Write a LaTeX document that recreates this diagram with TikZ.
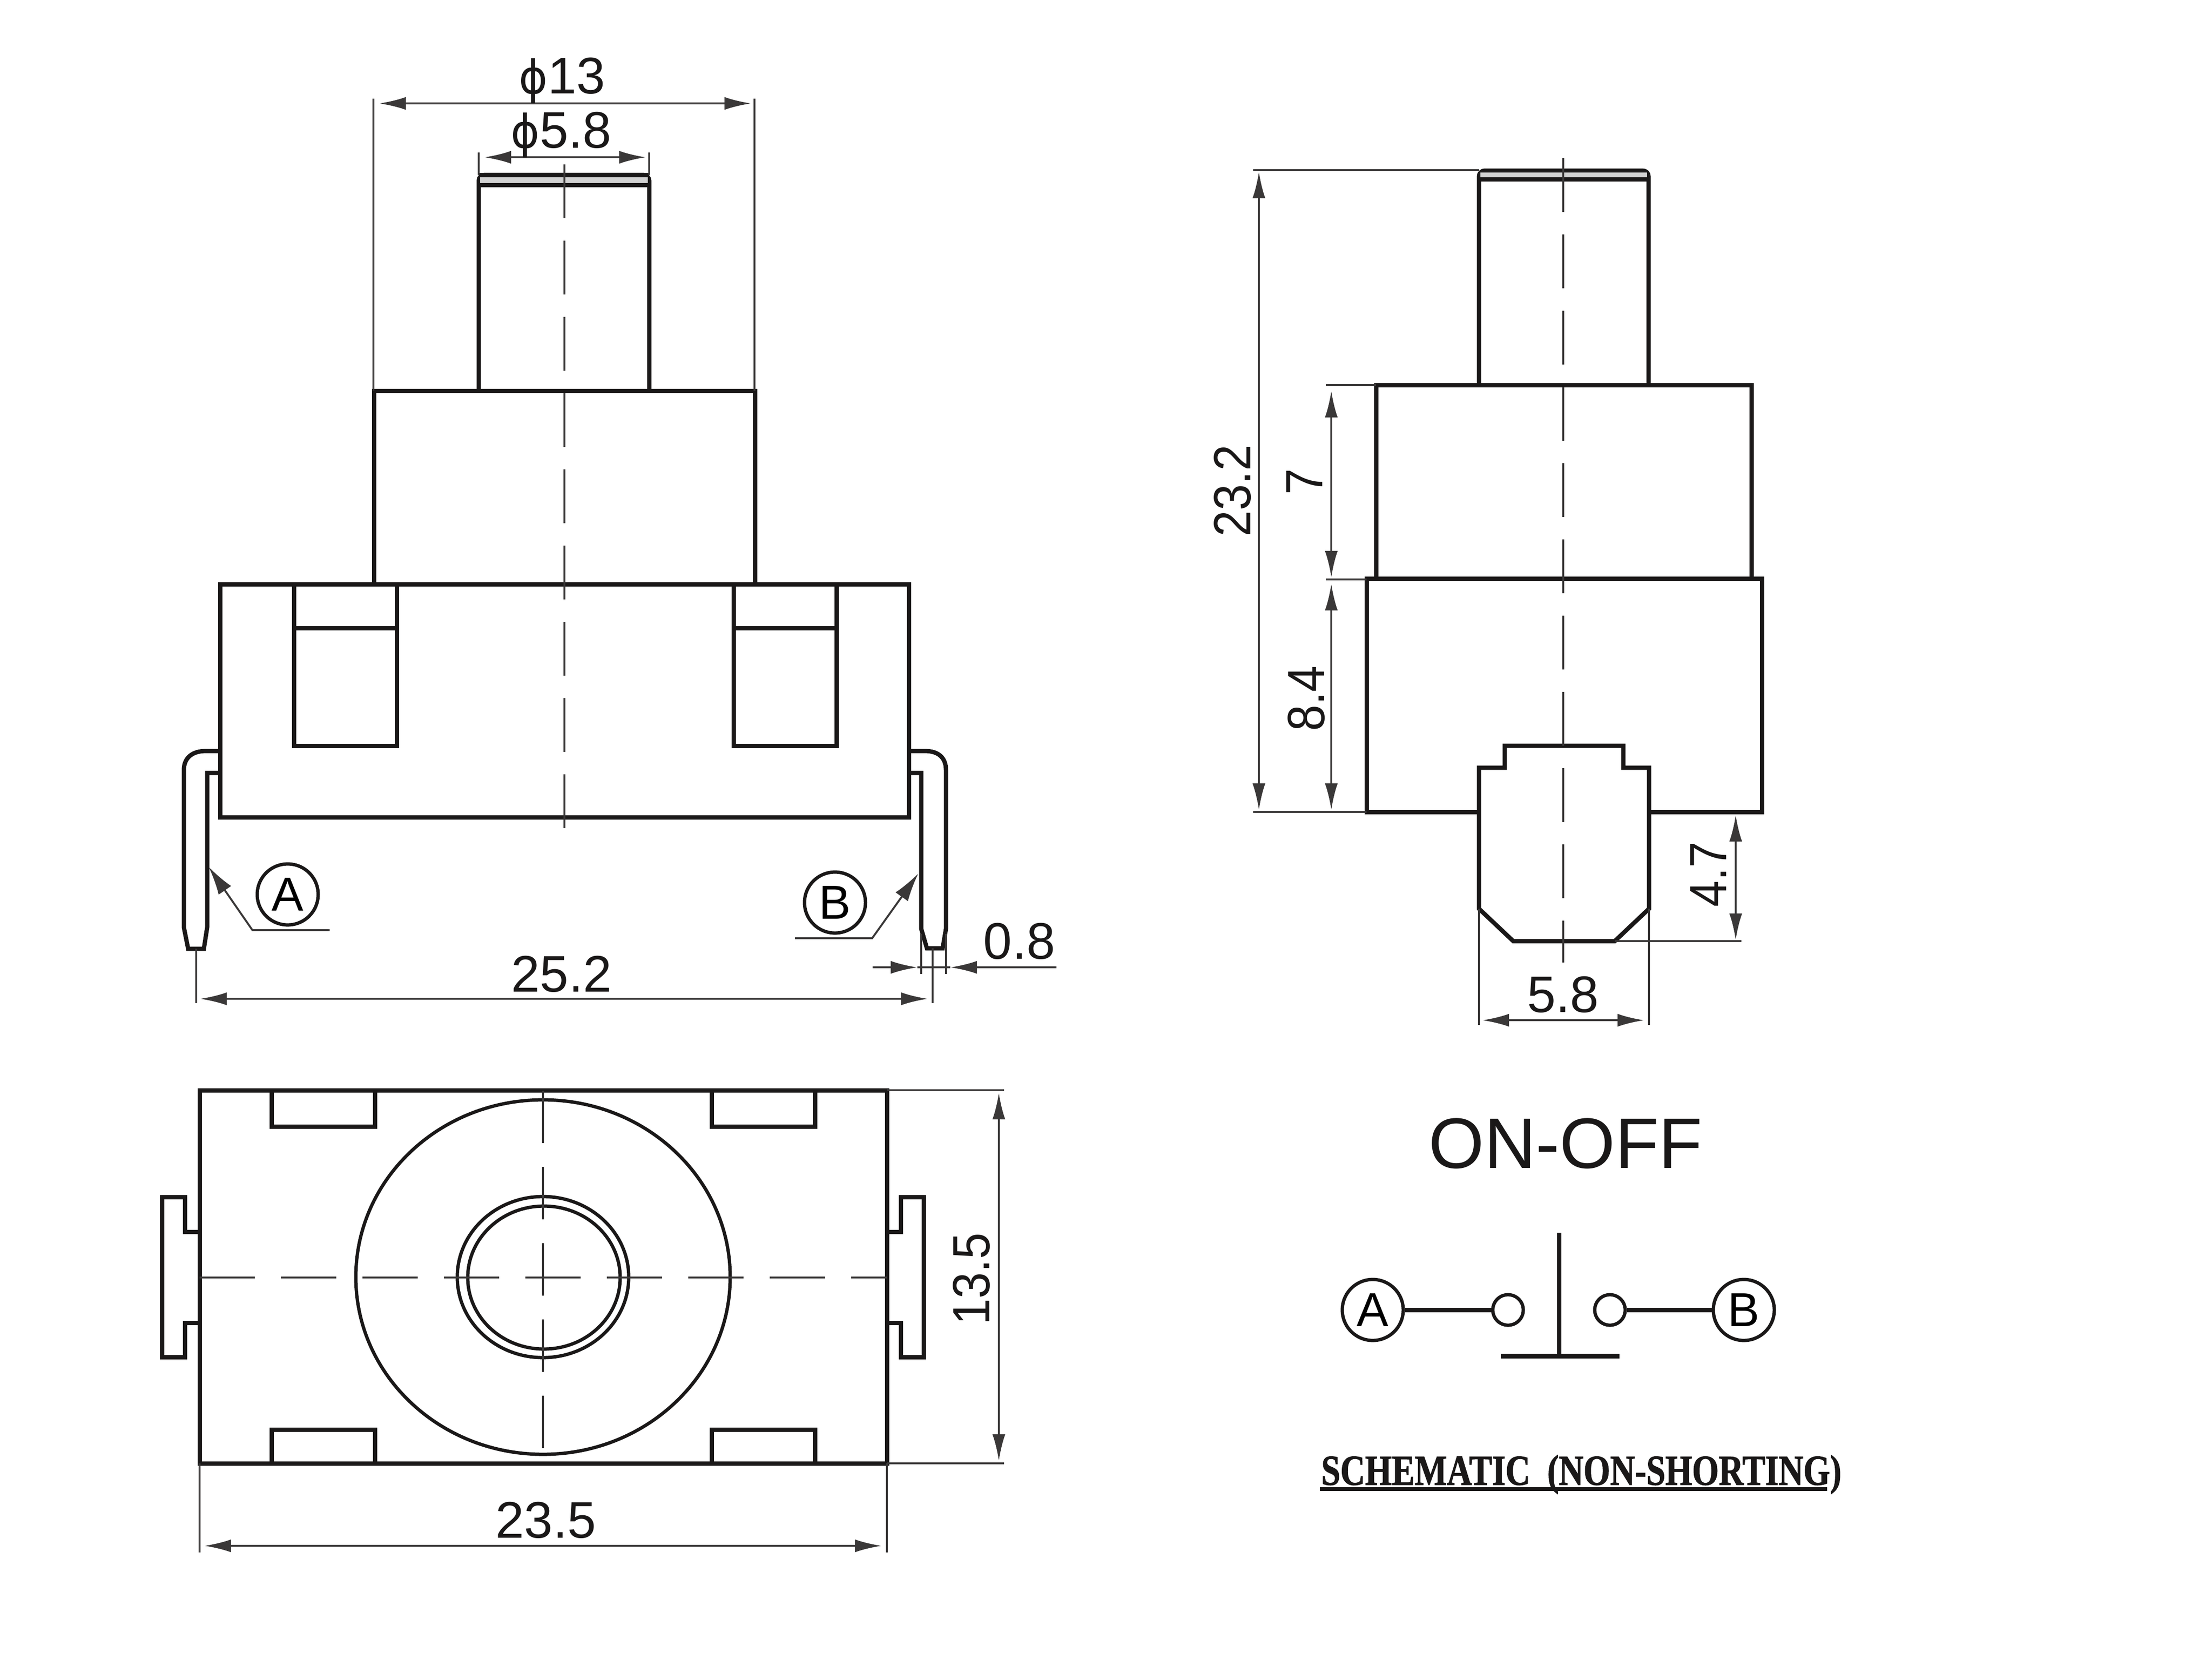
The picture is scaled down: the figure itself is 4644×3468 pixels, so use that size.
\documentclass[tikz,border=0pt]{standalone}
\usepackage{fontspec}
\setmainfont{Liberation Sans}
\newfontfamily\phifont{DejaVu Sans}
\newfontfamily\dimnarrow[FakeStretch=0.9]{Liberation Sans}
\newfontfamily\schemfont[FakeStretch=0.8,FakeBold=1.2]{Liberation Serif}
\usetikzlibrary{arrows.meta}
\definecolor{inkline}{HTML}{1A1818}
\definecolor{inkthin}{HTML}{3A3838}
\tikzset{
  outline/.style={line width=0.9pt,draw=inkline,line join=miter},
  thinoutline/.style={line width=0.7pt,draw=inkline},
  extline/.style={line width=0.45pt,draw=inkthin},
  dimline/.style={extline,{Latex[length=5.6pt,width=2.7pt]}-{Latex[length=5.6pt,width=2.7pt]}},
  dimhalf/.style={extline,-{Latex[length=5.6pt,width=2.7pt]}},
  leaderline/.style={line width=0.4pt,draw=inkthin,-{Latex[length=6pt,width=3.2pt]}},
  centerline/.style={line width=0.4pt,draw=inkthin,dash pattern=on 11.3pt off 4.7pt},
  dimtext/.style={font=\fontsize{10.8pt}{12pt}\selectfont,text=inkline,inner sep=0pt},
  rotdimtext/.style={dimtext,rotate=90,font=\dimnarrow\fontsize{11pt}{12pt}\selectfont},
  termring/.style={circle,draw=inkline,line width=0.7pt,minimum size=12.8pt,inner sep=0pt,font=\fontsize{10pt}{12pt}\selectfont},
  polering/.style={circle,draw=inkline,line width=0.7pt,minimum size=6.4pt,inner sep=0pt}
}
\newcommand{\phisign}{{\phifont\scalebox{0.85}[0.9]{ϕ}}}
\begin{document}
\begin{tikzpicture}[x=0.1pt,y=-0.1pt]
\useasboundingbox (0,0) rectangle (4644,3468);

% Front view, plunger
\draw[outline,fill=white,rounded corners=1.2pt] (1005,820) -- (1005,367) -- (1363,367) -- (1363,820);
\fill[gray!35] (1008,372) rectangle (1360,385);
\draw[outline] (1005,388) -- (1363,388);
\draw[outline] (1005,367) -- (1363,367);

% Front view, collar and base
\draw[outline] (785,1226) rectangle (1585,820);
\draw[outline] (462,1226) rectangle (1908,1715);

% Front view, windows
\foreach \x in {617,1540} {
  \draw[outline] (\x,1226) rectangle (\x+216,1565);
  \draw[outline] (\x,1318) -- (\x+216,1318);
}

% Front view, terminal A
\draw[outline] (462,1576) -- (432,1576) .. controls (404,1576) and (386,1590) .. (386,1616)
  -- (386,1946) -- (395,1991) -- (428,1991) -- (435,1946) -- (435,1622) -- (462,1622);

% Front view, terminal B
\draw[outline] (1908,1576) -- (1942,1576) .. controls (1970,1576) and (1986,1590) .. (1986,1616)
  -- (1986,1949) -- (1979,1990) -- (1946,1990) -- (1934,1949) -- (1934,1622) -- (1908,1622);

% Front view, centre line
\draw[centerline] (1185,345) -- (1185,1740);

% Front view, dimensions
\draw[extline] (784,207) -- (784,820);
\draw[extline] (1584,207) -- (1584,820);
\draw[dimline] (796,217) -- (1577,217);
\node[dimtext] (diaBody) at (1180,169) {\phisign13};
\draw[extline] (1005,320) -- (1005,367);
\draw[extline] (1363,320) -- (1363,367);
\draw[dimline] (1017,330) -- (1356,330);
\node[dimtext] (diaPlunger) at (1178,283) {\phisign5.8};
\draw[extline] (412,1991) -- (412,2105);
\draw[extline] (1958,1990) -- (1958,2105);
\draw[dimline] (420,2096) -- (1948,2096);
\node[dimtext] (lenPins) at (1179,2044) {25.2};
\draw[extline] (1934,1960) -- (1934,2044);
\draw[extline] (1986,1960) -- (1986,2044);
\draw[dimhalf] (1832,2030) -- (1926,2030);
\draw[dimhalf] (2218,2030) -- (1995,2030);
\draw[extline] (1926,2030) -- (1995,2030);
\node[dimtext] (widPin) at (2140,1975) {0.8};

% Front view, terminal marks
\node[termring] (markA) at (604,1877) {A};
\node[termring] (markB) at (1753,1894) {B};
\coordinate (tipA) at (438,1819);
\coordinate (tipB) at (1928,1833);
\draw[leaderline] (692,1952) -- (530,1952) -- (tipA);
\draw[leaderline] (1669,1969) -- (1831,1969) -- (tipB);

% Top view, outline
\draw[outline] (419,2288) rectangle (1862,3071);
\foreach \x in {570,1494} {
  \draw[outline] (\x,2288) -- (\x,2364) -- (\x+217,2364) -- (\x+217,2288);
  \draw[outline] (\x,3071) -- (\x,3000) -- (\x+217,3000) -- (\x+217,3071);
}

% Top view, side tabs
\draw[outline] (419,2585) -- (388,2585) -- (388,2512) -- (340,2512) -- (340,2848) -- (388,2848) -- (388,2776) -- (419,2776);
\draw[outline] (1862,2585) -- (1891,2585) -- (1891,2512) -- (1939,2512) -- (1939,2848) -- (1891,2848) -- (1891,2776) -- (1862,2776);

% Top view, rings
\draw[thinoutline] (1140,2680) ellipse [x radius=39.3pt,y radius=37.2pt];
\draw[thinoutline] (1140,2680) ellipse [x radius=18pt,y radius=16.9pt];
\draw[thinoutline] (1142,2681) ellipse [x radius=16pt,y radius=15pt];

% Top view, centre lines
\draw[centerline,dash pattern=on 11.6pt off 5.5pt] (419,2681) -- (1862,2681);
\draw[centerline,dash pattern=on 11pt off 5pt] (1140,2289) -- (1140,3045);

% Top view, dimensions
\draw[extline] (419,3071) -- (419,3258);
\draw[extline] (1862,3071) -- (1862,3258);
\draw[dimline] (429,3244) -- (1851,3244);
\node[dimtext] (lenBase) at (1146,3190) {23.5};
\draw[extline] (1862,2288) -- (2108,2288);
\draw[extline] (1862,3071) -- (2108,3071);
\draw[dimline] (2097,2293) -- (2097,3066);
\node[rotdimtext] (widBase) at (2040,2684) {13.5};

% Side view, plunger
\draw[outline,fill=white,rounded corners=1.2pt] (3105,808) -- (3105,358) -- (3461,358) -- (3461,808);
\fill[gray!35] (3108,362) rectangle (3458,372);
\draw[outline] (3105,376) -- (3461,376);

% Side view, collar and base
\draw[outline] (2889,1214) rectangle (3677,808);
\draw[outline] (2869,1214) rectangle (3699,1704);

% Side view, key
\draw[outline,fill=white] (3105,1704) -- (3105,1611) -- (3159,1611) -- (3159,1565) -- (3408,1565) -- (3408,1611)
  -- (3462,1611) -- (3462,1907) -- (3390,1975) -- (3177,1975) -- (3105,1907) -- cycle;

% Side view, centre line
\draw[centerline] (3282,332) -- (3282,2020);

% Side view, dimensions
\draw[extline] (2631,357) -- (3105,357);
\draw[extline] (2631,1704) -- (2869,1704);
\draw[dimline] (2643,360) -- (2643,1700);
\node[rotdimtext] (lenAll) at (2588,1030) {23.2};
\draw[extline] (2784,808) -- (2889,808);
\draw[extline] (2784,1216) -- (2869,1216);
\draw[dimline] (2795,820) -- (2795,1212);
\node[rotdimtext] (lenCollar) at (2739,1011) {7};
\draw[dimline] (2795,1225) -- (2795,1700);
\node[rotdimtext] (lenBody) at (2743,1466) {8.4};
\draw[extline] (3390,1975) -- (3656,1975);
\draw[dimline] (3644,1710) -- (3644,1973);
\node[rotdimtext] (lenKey) at (3587,1835) {4.7};
\draw[extline] (3105,1907) -- (3105,2151);
\draw[extline] (3462,1907) -- (3462,2151);
\draw[dimline] (3112,2141) -- (3452,2141);
\node[dimtext] (widKey) at (3281,2087) {5.8};

% Schematic
\node[font=\fontsize{15pt}{16pt}\selectfont,text=inkline,inner sep=0pt] (modeName) at (3287,2400) {ON-OFF};
\node[termring] (termA) at (2882,2749) {A};
\node[termring] (termB) at (3661,2749) {B};
\node[polering] (poleA) at (3166,2749) {};
\node[polering] (poleB) at (3380,2749) {};
\draw[outline] (termA) -- (poleA);
\draw[outline] (poleB) -- (termB);
\draw[outline] (3273,2587) -- (3273,2846);
\draw[line width=1pt,draw=inkline] (3151,2846) -- (3400,2846);
\node[font=\schemfont\bfseries\fontsize{9pt}{10pt}\selectfont,text=inkline,inner sep=0pt,anchor=base] (schemCaption) at (3320,3116) {SCHEMATIC\ \ (NON-SHORTING)};
\draw[line width=0.8pt,draw=inkline] (2771,3125) -- (3836,3125);
\end{tikzpicture}
\end{document}
